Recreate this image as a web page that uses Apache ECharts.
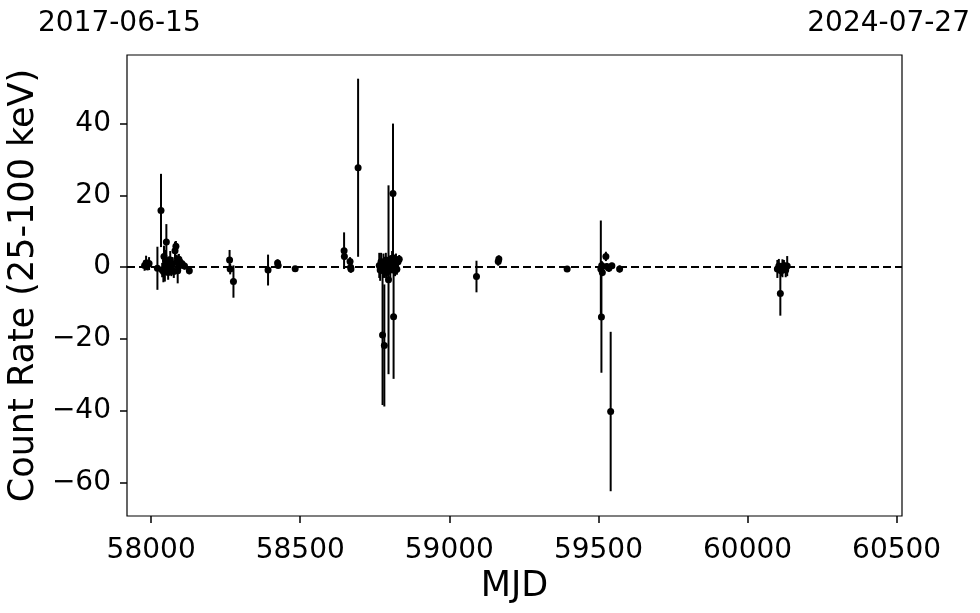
<!DOCTYPE html>
<html>
<head>
<meta charset="utf-8">
<script src="https://cdn.jsdelivr.net/npm/echarts@6/dist/echarts.min.js"></script>
<style>html,body{margin:0;padding:0;background:#fff}#c{width:980px;height:613px}</style>
</head>
<body>
<div id="c"></div>
<script>
// MJD of each measurement
const mjd = [
  57978, 57983, 57988, 57993, 58021, 58033, 58037, 58041, 58043, 58046, 58048, 58051, 58054, 58057,
  58060, 58064, 58068, 58072, 58076, 58080, 58083, 58086, 58089, 58093, 58097, 58103, 58112, 58128,
  58263, 58265, 58276, 58392, 58424, 58426, 58483,
  58647, 58648, 58667, 58669, 58670, 58694,
  58765, 58768, 58771, 58776, 58778, 58779, 58782, 58784, 58787, 58790, 58793, 58796, 58799, 58802,
  58805, 58808, 58811, 58813, 58815, 58818, 58821, 58824, 58828, 58832,
  59091, 59164, 59166, 59395,
  59508, 59510, 59511, 59513, 59525, 59528, 59535, 59541, 59545, 59571,
  60100, 60105, 60110, 60113, 60117, 60122, 60128, 60133
];
// count rate (25-100 keV)
const rate = [
  0.5, 1.2, 0.6, 1.0, -0.3, 15.8, -0.8, -1.2, 3.0, -0.5, 1.8, 7.0, 0.3, -1.5,
  1.0, 2.0, -0.5, 0.8, -1.2, 4.6, 5.8, 1.5, -1.0, 2.2, 0.5, 1.0, 0.3, -1.0,
  2.0, -0.5, -4.0, -0.8, 1.2, 0.5, -0.4,
  4.6, 3.0, 1.6, 0.0, -0.5, 27.7,
  0.5, -0.8, 1.5, -18.9, -1.0, 0.8, -21.8, -0.5, 2.0, -1.5, 0.6, -3.5, 1.2, -0.8,
  0.3, 2.5, 20.5, -13.8, 1.0, -1.0, 2.0, -0.6, 1.5, 2.2,
  -2.6, 1.6, 2.3, -0.5,
  -0.5, -13.9, 0.5, -1.5, 3.0, 0.2, -0.3, -40.2, 0.4, -0.5,
  -0.5, 0.3, -7.3, -1.0, -0.3, 0.5, -0.8, 0.3
];
// 1-sigma uncertainty
const err = [
  1.5, 2.0, 1.5, 1.8, 6.0, 10.2, 2.0, 3.0, 3.0, 3.5, 3.0, 5.0, 2.5, 2.0,
  2.0, 2.5, 2.0, 2.0, 1.8, 2.5, 1.5, 2.0, 3.5, 1.5, 1.5, 1.2, 1.0, 1.0,
  2.8, 1.5, 4.5, 4.3, 1.0, 0.8, 0.6,
  5.1, 1.0, 1.2, 1.5, 1.0, 24.8,
  3.5, 3.0, 2.5, 19.5, 2.0, 3.0, 17.0, 2.5, 2.0, 2.5, 2.0, 26.3, 2.0, 2.5,
  1.5, 2.0, 19.5, 17.3, 2.5, 1.5, 1.8, 1.5, 1.5, 1.2,
  4.4, 1.2, 1.0, 0.4,
  13.5, 15.5, 1.2, 1.0, 1.3, 0.8, 1.0, 22.2, 0.8, 1.0,
  2.5, 2.0, 6.2, 1.5, 2.5, 1.5, 2.0, 2.8
];
const xTicks = [58000, 58500, 59000, 59500, 60000, 60500];
const yTicks = [-60, -40, -20, 0, 20, 40];
const dateLeft = '2017-06-15';
const dateRight = '2024-07-27';

const pts = mjd.map((m, i) => [m, rate[i]]);
const bars = mjd.map((m, i) => [m, rate[i] - err[i], rate[i] + err[i]]);
const fmt = v => String(v).replace('-', '\u2212');
const FONT = 'DejaVu Sans';

const chart = echarts.init(document.getElementById('c'));
chart.setOption({
  animation: false,
  backgroundColor: '#fff',
  grid: { left: 127, right: 78, top: 55, bottom: 97, outerBoundsMode: 'none', containLabel: false,
          show: true, borderColor: '#000', borderWidth: 1.2, backgroundColor: 'transparent' },
  graphic: [
    { type: 'text', left: 38, top: 10, style: { text: dateLeft, font: '28px "DejaVu Sans"', fill: '#000' } },
    { type: 'text', right: 10, top: 10, style: { text: dateRight, font: '28px "DejaVu Sans"', fill: '#000' } }
  ],
  xAxis: {
    type: 'value', min: 57919, max: 60518,
    name: 'MJD', nameLocation: 'middle', nameGap: 53,
    nameTextStyle: { fontFamily: FONT, fontSize: 35, color: '#000' },
    axisLine: { show: false, onZero: false },
    axisTick: { show: true, inside: false, customValues: xTicks, length: 7, lineStyle: { color: '#000', width: 1.5 } },
    axisLabel: { customValues: xTicks, formatter: fmt, fontFamily: FONT, fontSize: 28, color: '#000', margin: 21 },
    splitLine: { show: false }
  },
  yAxis: {
    type: 'value', min: -69.3, max: 59.1,
    name: 'Count Rate (25-100 keV)', nameLocation: 'middle', nameGap: 82,
    nameTextStyle: { fontFamily: FONT, fontSize: 35, color: '#000' },
    axisLine: { show: false, onZero: false },
    axisTick: { show: true, inside: false, customValues: yTicks, length: 7, lineStyle: { color: '#000', width: 1.5 } },
    axisLabel: { customValues: yTicks, formatter: fmt, fontFamily: FONT, fontSize: 28, color: '#000', margin: 16 },
    splitLine: { show: false }
  },
  series: [
    {
      type: 'custom',
      data: bars,
      renderItem: (params, api) => {
        const lo = api.coord([api.value(0), api.value(1)]);
        const hi = api.coord([api.value(0), api.value(2)]);
        return { type: 'line', shape: { x1: lo[0], y1: lo[1], x2: hi[0], y2: hi[1] }, style: { stroke: '#000', lineWidth: 2 } };
      },
      z: 2
    },
    {
      type: 'scatter',
      data: pts,
      symbol: 'circle',
      symbolSize: 7,
      itemStyle: { color: '#000', opacity: 1 },
      z: 3,
      markLine: {
        silent: true, symbol: 'none', label: { show: false },
        lineStyle: { color: '#000', type: [8, 4], width: 2, opacity: 1 },
        data: [{ yAxis: 0 }]
      }
    }
  ]
});
</script>
</body>
</html>
